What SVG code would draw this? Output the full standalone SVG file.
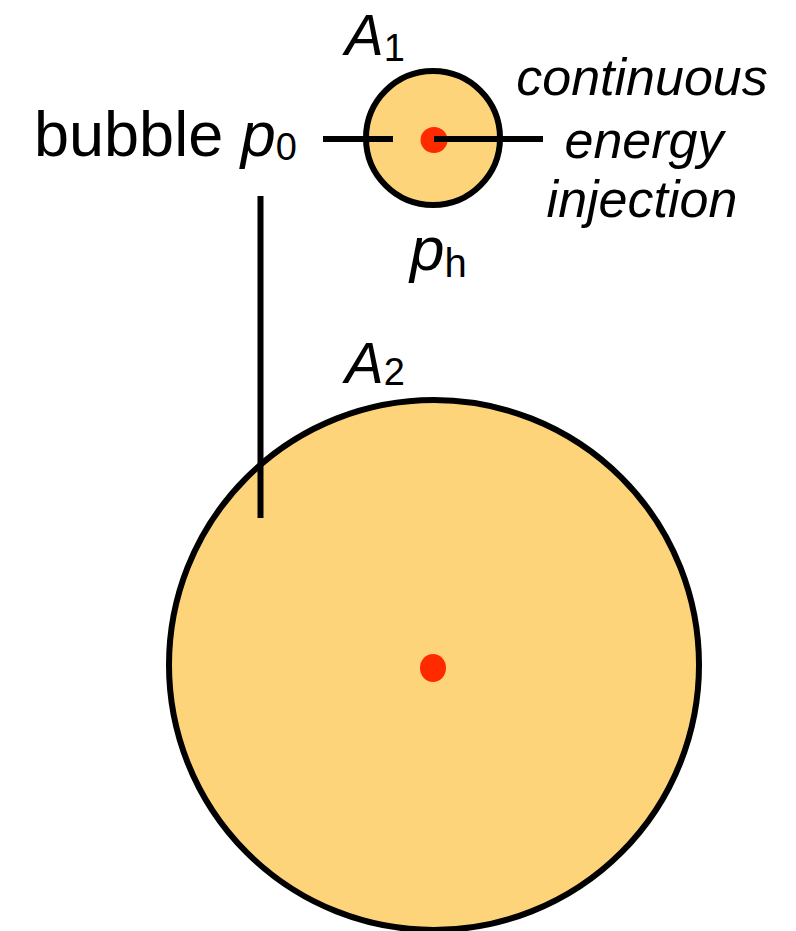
<svg xmlns="http://www.w3.org/2000/svg" width="796" height="931" viewBox="0 0 796 931">
<style>
.bub{fill:#FDD479;stroke:#000;stroke-width:6}
.dot{fill:#FF2A00}
.ln{stroke:#000;stroke-width:6;fill:none}
.t{font-family:"Liberation Sans",Arial,sans-serif;fill:#000}
.i{font-style:italic}
</style>
<rect width="796" height="931" fill="#fff"/>
<g id="bubble2">
<circle class="bub" cx="434" cy="665" r="265"/>
<ellipse class="dot" cx="433" cy="668" rx="13" ry="14"/>
</g>
<g id="bubble1">
<circle class="bub" cx="433" cy="138" r="67"/>
<ellipse class="dot" cx="434" cy="140" rx="13.5" ry="13"/>
</g>
<g id="connectors">
<line class="ln" x1="323" y1="139" x2="393" y2="139"/>
<line class="ln" x1="434" y1="139" x2="543" y2="139"/>
<line class="ln" x1="260.5" y1="196" x2="260.5" y2="518"/>
</g>
<g id="labels">
<text class="t" x="345" y="55" font-size="58"><tspan class="i">A</tspan><tspan font-size="38" dy="6">1</tspan></text>
<text class="t" x="34" y="156" font-size="63">bubble <tspan class="i">p</tspan><tspan font-size="38" dy="4">0</tspan></text>
<text class="t i" x="642" y="95" font-size="52" text-anchor="middle">continuous</text>
<text class="t i" x="644" y="158" font-size="52" text-anchor="middle">energy</text>
<text class="t i" x="642" y="217" font-size="52" text-anchor="middle">injection</text>
<text class="t" x="410" y="270" font-size="62"><tspan class="i">p</tspan><tspan font-size="40" dy="7">h</tspan></text>
<text class="t" x="345" y="383" font-size="58"><tspan class="i">A</tspan><tspan font-size="38" dy="2">2</tspan></text>
</g>
</svg>
